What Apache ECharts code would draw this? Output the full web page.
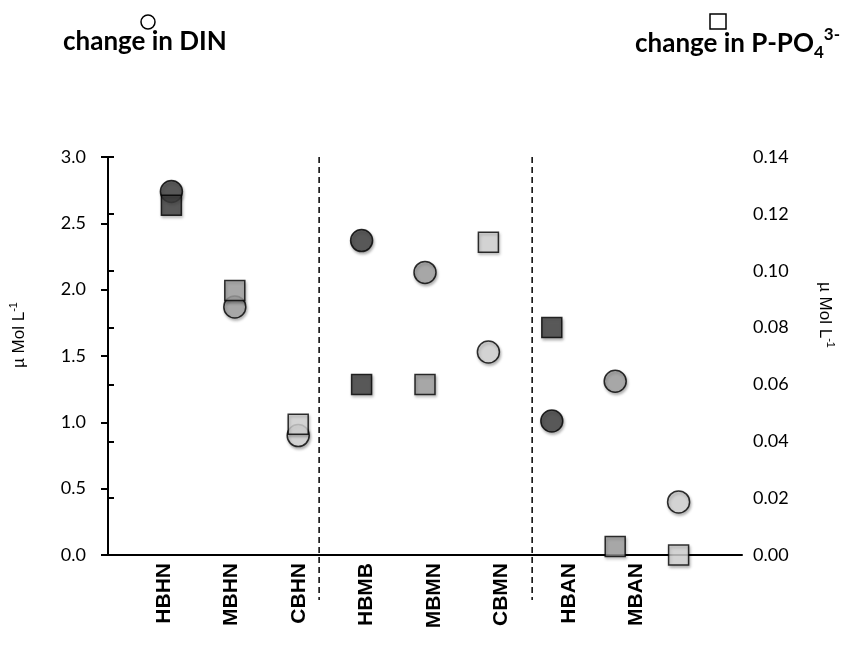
<!DOCTYPE html>
<html>
<head>
<meta charset="utf-8">
<script src="https://cdn.jsdelivr.net/npm/echarts@6/dist/echarts.min.js"></script>
<style>
html,body{margin:0;padding:0;background:#fff;}
#chart{width:847px;height:645px;}
</style>
</head>
<body>
<div id="chart"></div>
<script>
// ---- data ----
var categories = ['HBHN','MBHN','CBHN','HBMB','MBMN','CBMN','HBAN','MBAN','CBAN'];
var tickLabels = ['HBHN','MBHN','CBHN','HBMB','MBMN','CBMN','HBAN','MBAN'];
var dinValues = [2.74, 1.87, 0.90, 2.37, 2.13, 1.53, 1.01, 1.31, 0.40];
var po4Values = [0.123, 0.093, 0.046, 0.060, 0.060, 0.110, 0.080, 0.003, 0.000];
var separators = [3.33, 6.69];
var leftTicks = [0, 0.5, 1.0, 1.5, 2.0, 2.5, 3.0];
var rightTicks = [0, 0.02, 0.04, 0.06, 0.08, 0.10, 0.12, 0.14];

var shadeByPrefix = { H: '#404040', M: '#a3a3a3', C: '#d9d9d9' };
var labelOffset = 0.83; // label axis offset (Excel-like shift of labels)

function pointData(values) {
  return values.map(function (v, i) {
    return {
      value: [i + 1, v],
      name: categories[i],
      itemStyle: { color: shadeByPrefix[categories[i].charAt(0)] }
    };
  });
}

var markerStyle = {
  borderColor: '#000',
  borderWidth: 1.5,
  shadowBlur: 3,
  shadowOffsetX: 1,
  shadowOffsetY: 2,
  shadowColor: 'rgba(0,0,0,0.35)'
};

function nameStyle(pad) {
  return {
    fontFamily: 'Liberation Sans', fontSize: 17, color: '#000',
    padding: pad,
    rich: {
      a: { fontFamily: 'Liberation Sans', fontSize: 17, color: '#000', verticalAlign: 'bottom', lineHeight: 20 },
      s: { fontFamily: 'Liberation Sans', fontSize: 11, color: '#000', verticalAlign: 'top', lineHeight: 20 }
    }
  };
}

var chart = echarts.init(document.getElementById('chart'), null, { renderer: 'canvas' });

var option = {
  backgroundColor: '#fff',
  animation: false,
  title: [
    {
      text: 'change in DIN',
      left: 63, top: 29, padding: 0,
      textStyle: { fontFamily: 'Lato', fontWeight: 'bold', fontSize: 26, color: '#000' }
    },
    {
      text: '{m|change in P-PO}{sub|4}{sup|3-}',
      left: 635, top: 26, padding: 0,
      textStyle: {
        rich: {
          m: { fontFamily: 'Lato', fontWeight: 'bold', fontSize: 26, color: '#000', lineHeight: 31, verticalAlign: 'bottom' },
          sub: { fontFamily: 'Lato', fontWeight: 'bold', fontSize: 17, color: '#000', verticalAlign: 'bottom', padding: [0, 0, -4, 0] },
          sup: { fontFamily: 'Lato', fontWeight: 'bold', fontSize: 17, color: '#000', verticalAlign: 'top' }
        }
      }
    }
  ],
  graphic: [
    { type: 'circle', shape: { cx: 148, cy: 22, r: 7 }, style: { fill: '#fff', stroke: '#000', lineWidth: 1.5 }, z: 10 },
    { type: 'rect', shape: { x: 710, y: 14, width: 16, height: 15 }, style: { fill: '#fff', stroke: '#000', lineWidth: 1.5 }, z: 10 }
  ],
  grid: { left: 107, right: 105, top: 157, bottom: 90, containLabel: false },
  xAxis: [
    {
      type: 'value', min: 0, max: categories.length + 1, position: 'bottom',
      axisLine: { show: true, onZero: false, lineStyle: { color: '#000', width: 2 } },
      axisTick: { show: false }, axisLabel: { show: false }, splitLine: { show: false }
    },
    {
      type: 'value', min: 0, max: 9.39, position: 'bottom',
      axisLine: { show: false }, axisTick: { show: false }, splitLine: { show: false },
      axisLabel: {
        show: true,
        customValues: tickLabels.map(function (_, i) { return labelOffset + i; }),
        rotate: 90,
        margin: 8,
        fontFamily: 'Liberation Sans',
        fontWeight: 'bold',
        fontSize: 21,
        color: '#000',
        formatter: function (v) {
          var idx = Math.round(v - labelOffset);
          return tickLabels[idx] || '';
        }
      }
    }
  ],
  yAxis: [
    {
      type: 'value', min: leftTicks[0], max: leftTicks[leftTicks.length - 1], interval: 0.5, position: 'left',
      name: '{a|µ Mol L}{s|-1}', nameLocation: 'middle', nameRotate: 90, nameGap: 80,
      nameTextStyle: nameStyle([0, 0, 0, 42]),
      axisLine: { show: true, lineStyle: { color: '#000', width: 2 } },
      axisTick: { show: true, inside: false, length: 7, lineStyle: { color: '#000', width: 2 } },
      axisLabel: { margin: 22, fontFamily: 'Lato', fontSize: 18, color: '#000', formatter: function (v) { return v.toFixed(1); } },
      splitLine: { show: false }
    },
    {
      type: 'value', min: rightTicks[0], max: rightTicks[rightTicks.length - 1], interval: 0.02, position: 'right',
      name: '{a|µ Mol L}{s|-1}', nameLocation: 'middle', nameRotate: -90, nameGap: 74,
      nameTextStyle: nameStyle([0, 82, 0, 0]),
      axisLine: { show: true, lineStyle: { color: '#000', width: 2 } },
      axisTick: { show: true, inside: false, length: 6, lineStyle: { color: '#000', width: 2 } },
      axisLabel: { margin: 11, fontFamily: 'Lato', fontSize: 18, color: '#000', formatter: function (v) { return v.toFixed(2); } },
      splitLine: { show: false }
    }
  ],
  series: [
    {
      name: 'separators',
      type: 'custom',
      xAxisIndex: 0, yAxisIndex: 0,
      clip: false,
      silent: true,
      data: separators.map(function (x) { return [x]; }),
      renderItem: function (params, api) {
        var x = api.value(0);
        var p1 = api.coord([x, 3.0]);
        var p2 = api.coord([x, -0.34]);
        return {
          type: 'line',
          shape: { x1: p1[0], y1: p1[1], x2: p2[0], y2: p2[1] },
          style: { stroke: '#000', lineWidth: 1.5, lineDash: [6, 4] }
        };
      },
      z: 1
    },
    {
      name: 'change in DIN',
      type: 'scatter',
      xAxisIndex: 0, yAxisIndex: 0,
      symbol: 'circle', symbolSize: 22,
      clip: false,
      itemStyle: markerStyle,
      data: pointData(dinValues),
      z: 3
    },
    {
      name: 'change in P-PO4',
      type: 'scatter',
      xAxisIndex: 0, yAxisIndex: 1,
      symbol: 'rect', symbolSize: 20,
      clip: false,
      itemStyle: markerStyle,
      data: pointData(po4Values),
      z: 4
    }
  ]
};

chart.setOption(option);
</script>
</body>
</html>
